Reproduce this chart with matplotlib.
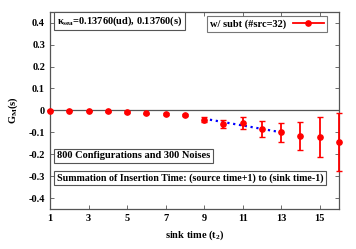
import matplotlib
matplotlib.use("Agg")
import matplotlib.pyplot as plt
from matplotlib.lines import Line2D

t = [1, 2, 3, 4, 5, 6, 7, 8, 9, 10, 11, 12, 13, 14, 15, 16]
gm = [-0.0015, -0.0015, -0.003, -0.0045, -0.008, -0.014, -0.017, -0.020,
      -0.042, -0.061, -0.058, -0.086, -0.101, -0.118, -0.123, -0.144]
err = [0.002, 0.002, 0.002, 0.003, 0.003, 0.004, 0.004, 0.005,
       0.010, 0.019, 0.027, 0.036, 0.045, 0.064, 0.091, 0.131]
fit_t = [9, 13]
fit_v = [-0.038, -0.100]
xticks = [1, 3, 5, 7, 9, 11, 13, 15]
yticks = [-0.4, -0.3, -0.2, -0.1, 0, 0.1, 0.2, 0.3, 0.4]

plt.rcParams['font.family'] = ['Liberation Serif', 'DejaVu Serif']
plt.rcParams['font.weight'] = 'bold'
plt.rcParams['mathtext.fontset'] = 'custom'
plt.rcParams['mathtext.rm'] = 'Liberation Serif:bold'
plt.rcParams['mathtext.it'] = 'Liberation Serif:bold'
plt.rcParams['mathtext.bf'] = 'Liberation Serif:bold'

fig = plt.figure(figsize=(3.56, 2.49), dpi=100)
ax = fig.add_axes([0.1404, 0.1606, 0.8118, 0.7924])

ax.axhline(0, color='#555555', lw=0.9, zorder=1)
ax.errorbar(t, gm, yerr=err, fmt='o', color='red', ms=3.8, elinewidth=1.3,
            capsize=2, capthick=1.0, clip_on=False, zorder=3)
ax.plot(fit_t, fit_v, color='blue', ls=':', lw=1.6, zorder=2)

ax.set_xlim(1, 16)
ax.set_ylim(-0.45, 0.45)
ax.set_xticks(xticks)
ax.set_yticks(yticks)
ax.set_yticklabels(['-0.4', '-0.3', '-0.2', '-0.1', '0', '0.1', '0.2', '0.3', '0.4'])
ax.tick_params(direction='in', length=3, width=0.6, labelsize=7.5,
               right=True, top=True, colors='#555555', labelcolor='black')
for s in ax.spines.values():
    s.set_color('#555555')
    s.set_linewidth(0.9)

ax.set_xlabel('sink time (t$_2$)', fontsize=7.5, fontweight='bold', labelpad=4)
ax.set_ylabel('G$_M$(s)', fontsize=7.5, fontweight='bold', labelpad=6)

bb = dict(boxstyle='square,pad=0.25', fc='white', ec='#555555', lw=0.8)
ax.text(0.024, 0.953, 'κ$_{\\rm sea}$=0.13760(ud), 0.13760(s)', transform=ax.transAxes,
        fontsize=7.5, fontweight='bold', va='center', ha='left', bbox=bb)
ax.text(0.024, 0.269, '800 Configurations and 300 Noises', transform=ax.transAxes,
        fontsize=7.5, fontweight='bold', va='center', ha='left', bbox=bb)
ax.text(0.024, 0.157, 'Summation of Insertion Time: (source time+1) to (sink time-1)',
        transform=ax.transAxes, fontsize=7.2, fontweight='bold', va='center', ha='left', bbox=bb)

handle = Line2D([], [], color='red', lw=1.3, marker='o', ms=3.8)
leg = ax.legend([handle], ['w/ subt (#src=32)'], loc='upper right',
                bbox_to_anchor=(0.97, 0.995), markerfirst=False,
                fontsize=7.5, frameon=True, fancybox=False, handlelength=3.0,
                borderpad=0.3, handletextpad=0.6, borderaxespad=0.3)
leg.get_frame().set_edgecolor('#555555')
leg.get_frame().set_linewidth(0.8)

fig.savefig('out.png', dpi=100)
